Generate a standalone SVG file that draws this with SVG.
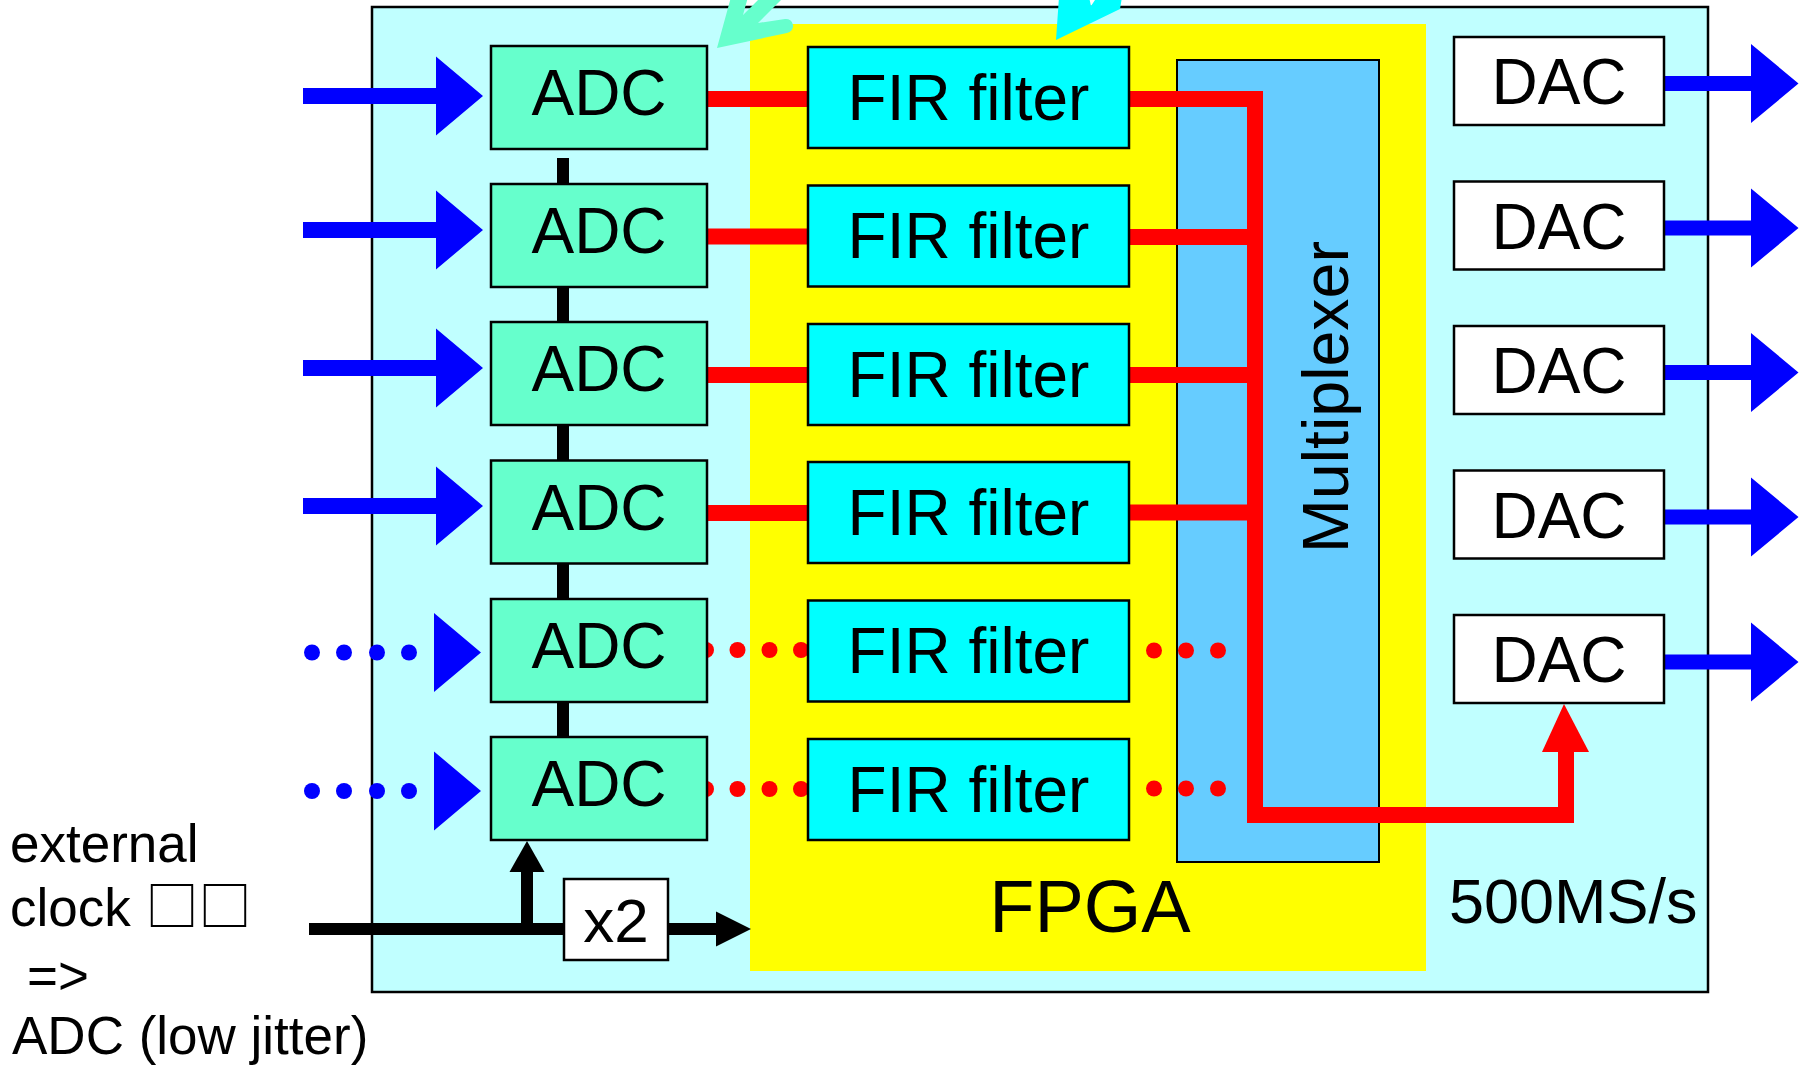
<svg xmlns="http://www.w3.org/2000/svg" width="1807" height="1067" viewBox="0 0 1807 1067">
<style>
text{font-family:"Liberation Sans",Arial,sans-serif;fill:#000}
.box{stroke:#000;stroke-width:2.5}
.adc{fill:#66FFCC}
.fir{fill:#00FFFF}
.dac{fill:#FFFFFF}
.red{stroke:#FF0000;stroke-width:16;fill:none}
.blue{fill:#0000FF}
.rdot{fill:#FF0000}
.lbl{font-size:64px;text-anchor:middle}
</style>
<rect width="1807" height="1067" fill="#FFFFFF"/>
<g id="board"><rect x="372" y="7" width="1336" height="985" fill="#C0FFFF" stroke="#000" stroke-width="2.5"/></g>
<g id="fpga"><rect x="750" y="24" width="676" height="947" fill="#FFFF00"/>
<text x="1090" y="932" font-size="74" text-anchor="middle">FPGA</text></g>
<g id="mux"><rect x="1177" y="60" width="202" height="802" fill="#66CCFF" stroke="#000" stroke-width="2"/>
<text transform="translate(1348,397) rotate(-90)" font-size="64.5" text-anchor="middle">Multiplexer</text></g>
<g id="connectors">
<line x1="563" y1="158" x2="563" y2="737" stroke="#000" stroke-width="12"/>
<line x1="705" y1="99" x2="810" y2="99" class="red"/>
<line x1="705" y1="236.5" x2="810" y2="236.5" class="red"/>
<line x1="705" y1="375" x2="810" y2="375" class="red"/>
<line x1="705" y1="513" x2="810" y2="513" class="red"/>
<path d="M1127,99 H1255 V815 H1566 V750" class="red" stroke-linejoin="miter"/>
<line x1="1127" y1="237" x2="1255" y2="237" class="red"/>
<line x1="1127" y1="375" x2="1255" y2="375" class="red"/>
<line x1="1127" y1="512.5" x2="1255" y2="512.5" class="red"/>
<polygon points="1542,752 1589,752 1564,704" fill="#FF0000"/>
<g class="rdot">
<circle cx="706" cy="650" r="8"/><circle cx="737.5" cy="650" r="8"/><circle cx="769.5" cy="650" r="8"/><circle cx="801" cy="650" r="8"/>
<circle cx="706" cy="789" r="8"/><circle cx="737.5" cy="789" r="8"/><circle cx="769.5" cy="789" r="8"/><circle cx="801" cy="789" r="8"/>
<circle cx="1154" cy="650.5" r="8"/><circle cx="1186" cy="650.5" r="8"/><circle cx="1218" cy="650.5" r="8"/>
<circle cx="1154" cy="788.5" r="8"/><circle cx="1186" cy="788.5" r="8"/><circle cx="1218" cy="788.5" r="8"/>
</g>
<g class="blue">
<polygon points="303,88 436,88 436,56.5 483,96 436,135.5 436,104 303,104"/>
<polygon points="303,222 436,222 436,190.5 483,230 436,269.5 436,238 303,238"/>
<polygon points="303,360 436,360 436,328.5 483,368 436,407.5 436,376 303,376"/>
<polygon points="303,498 436,498 436,466.5 483,506 436,545.5 436,514 303,514"/>
<circle cx="312" cy="652.5" r="8"/><circle cx="344" cy="652.5" r="8"/><circle cx="377" cy="652.5" r="8"/><circle cx="409" cy="652.5" r="8"/>
<polygon points="434,613 481,652.5 434,692"/>
<circle cx="312" cy="791" r="8"/><circle cx="344" cy="791" r="8"/><circle cx="377" cy="791" r="8"/><circle cx="409" cy="791" r="8"/>
<polygon points="434,751.5 481,791 434,830.5"/>
<polygon points="1664,76 1751,76 1751,44 1798.5,83.5 1751,123 1751,91 1664,91"/>
<polygon points="1664,220.5 1751,220.5 1751,188.5 1798.5,228 1751,267.5 1751,235.5 1664,235.5"/>
<polygon points="1664,365 1751,365 1751,333 1798.5,372.5 1751,412 1751,380 1664,380"/>
<polygon points="1664,509.5 1751,509.5 1751,477.5 1798.5,517 1751,556.5 1751,524.5 1664,524.5"/>
<polygon points="1664,654.5 1751,654.5 1751,622.5 1798.5,662 1751,701.5 1751,669.5 1664,669.5"/>
</g>
<line x1="309" y1="929" x2="718" y2="929" stroke="#000" stroke-width="12"/>
<polygon points="716,911.5 751,929 716,946.5" fill="#000"/>
<line x1="527" y1="929" x2="527" y2="870" stroke="#000" stroke-width="12"/>
<polygon points="509.5,872 544.5,872 527,841" fill="#000"/>
</g>
<g id="adc1"><rect x="491" y="46" width="216" height="103" class="box adc"/><text x="599" y="115" class="lbl" font-size="65">ADC</text></g>
<g id="adc2"><rect x="491" y="184" width="216" height="103" class="box adc"/><text x="599" y="253" class="lbl">ADC</text></g>
<g id="adc3"><rect x="491" y="322" width="216" height="103" class="box adc"/><text x="599" y="391" class="lbl">ADC</text></g>
<g id="adc4"><rect x="491" y="460.5" width="216" height="103" class="box adc"/><text x="599" y="529.5" class="lbl">ADC</text></g>
<g id="adc5"><rect x="491" y="599" width="216" height="103" class="box adc"/><text x="599" y="668" class="lbl">ADC</text></g>
<g id="adc6"><rect x="491" y="737" width="216" height="103" class="box adc"/><text x="599" y="806" class="lbl">ADC</text></g>
<g id="fir1"><rect x="808" y="47" width="321" height="101" class="box fir"/><text x="968.5" y="119.5" class="lbl">FIR filter</text></g>
<g id="fir2"><rect x="808" y="185.5" width="321" height="101" class="box fir"/><text x="968.5" y="258" class="lbl">FIR filter</text></g>
<g id="fir3"><rect x="808" y="324" width="321" height="101" class="box fir"/><text x="968.5" y="396.5" class="lbl">FIR filter</text></g>
<g id="fir4"><rect x="808" y="462" width="321" height="101" class="box fir"/><text x="968.5" y="534.5" class="lbl">FIR filter</text></g>
<g id="fir5"><rect x="808" y="600.5" width="321" height="101" class="box fir"/><text x="968.5" y="673" class="lbl">FIR filter</text></g>
<g id="fir6"><rect x="808" y="739" width="321" height="101" class="box fir"/><text x="968.5" y="811.5" class="lbl">FIR filter</text></g>
<g id="dac1"><rect x="1454" y="37" width="210" height="88" class="box dac"/><text x="1559" y="104" class="lbl" font-size="63">DAC</text></g>
<g id="dac2"><rect x="1454" y="181.5" width="210" height="88" class="box dac"/><text x="1559" y="248.5" class="lbl">DAC</text></g>
<g id="dac3"><rect x="1454" y="326" width="210" height="88" class="box dac"/><text x="1559" y="393" class="lbl">DAC</text></g>
<g id="dac4"><rect x="1454" y="470.5" width="210" height="88" class="box dac"/><text x="1559" y="537.5" class="lbl">DAC</text></g>
<g id="dac5"><rect x="1454" y="615" width="210" height="88" class="box dac"/><text x="1559" y="682" class="lbl">DAC</text></g>
<g id="x2"><rect x="564" y="879" width="104" height="81" class="box dac"/><text x="616" y="942" font-size="62" text-anchor="middle">x2</text></g>
<g id="rate"><text x="1449" y="923" font-size="63">500MS/s</text></g>
<g id="clocknote" font-size="53">
<text x="10" y="862" font-size="53">external</text>
<text x="10" y="926" font-size="53">clock <tspan font-family="'Noto Sans CJK JP',sans-serif">□□</tspan></text>
<text x="27" y="994" font-size="53">=&gt;</text>
<text x="12" y="1054" font-size="53">ADC (low jitter)</text>
</g>
<g id="arrow-adc"><path d="M717,48 L731,-3 L748,-3 L743,15 L761,-3 L784,-3 L758,23 L785,19 A7,7 0 0 1 787,33 Z" fill="#66FFCC"/></g>
<g id="arrow-fir"><path d="M1056,40 L1059,-3 L1089,-3 L1091,6 L1097,-3 L1122,-3 L1120,9 Z" fill="#00FFFF"/></g>
</svg>
